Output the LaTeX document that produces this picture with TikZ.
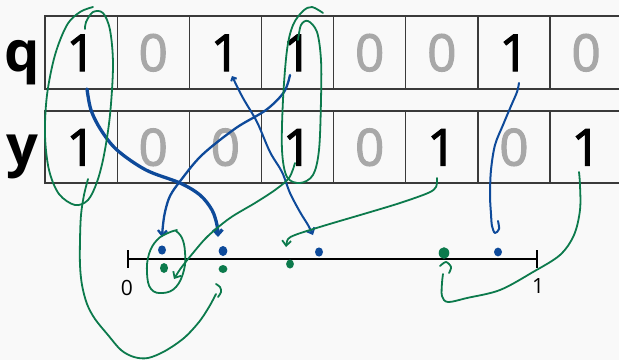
\documentclass[tikz,border=0pt]{standalone}
\usepackage{fontspec}
\setmainfont{Open Sans}
\newfontfamily\digfont[FakeBold=2.2]{Open Sans}
\usetikzlibrary{arrows.meta}
\definecolor{bg}{HTML}{F9F9F9}
\definecolor{gridc}{HTML}{3A3A3A}
\definecolor{pen}{HTML}{0E4A9A}
\definecolor{ink}{HTML}{0C7A4C}
\definecolor{zero}{HTML}{A8A8A8}
\begin{document}
\begin{tikzpicture}[x=1pt,y=-1pt,
  cell/.style={draw=gridc, line width=1.3pt, fill=bg, minimum width=72.15pt,
    minimum height=73pt, inner sep=0pt, text height=37pt, text depth=0pt,
    font=\fontsize{51}{51}\digfont},
  one/.style={cell, text=black},
  nil/.style={cell, text=zero},
  rowlab/.style={anchor=base, inner sep=0pt, font=\fontsize{56}{56}\selectfont\bfseries},
  axlab/.style={anchor=base, inner sep=0pt, font=\fontsize{21}{21}\selectfont},
  bstroke/.style={draw=pen, line width=2.3pt, line cap=round, line join=round},
  gstroke/.style={draw=ink, line width=1.8pt, line cap=round, line join=round},
  barb/.style={-{Straight Barb[length=5pt,width=9pt]}},
  hd/.style={smooth, tension=0.55}]
\useasboundingbox (0,0) rectangle (619,360);
\clip (0,0) rectangle (619,360);
\fill[bg] (0,0) rectangle (619,360);

% grid cells
\foreach \d [count=\i] in {1,0,1,1,0,0,1,0} {
  \ifnum\d=1 \node[one] (q\i) at ({45+72.15*(\i-0.5)},52.5) {1};
  \else \node[nil] (q\i) at ({45+72.15*(\i-0.5)},52.5) {0}; \fi
}
\foreach \d [count=\i] in {1,0,0,1,0,1,0,1} {
  \ifnum\d=1 \node[one, minimum height=72pt] (y\i) at ({45+72.15*(\i-0.5)},147) {1};
  \else \node[nil, minimum height=72pt] (y\i) at ({45+72.15*(\i-0.5)},147) {0}; \fi
}
\node[rowlab] (ql) at (22,71) {q};
\node[rowlab] (yl) at (22,165) {y};

% number line
\coordinate (n0) at (128,259);
\coordinate (n1) at (537,259);
\draw[line width=2.3pt] (n0) -- (n1);
\draw[line width=2.3pt] (128,250) -- (128,268);
\draw[line width=2.3pt] (537,250) -- (537,268);
\node[axlab] (l0) at (127,295) {0};
\node[axlab] (l1) at (538,293) {1};

% dots
\fill[pen] (162,250) ellipse [x radius=4pt, y radius=4.6pt];
\fill[pen] (223,251) ellipse [x radius=4.4pt, y radius=5pt];
\fill[pen] (319,252) ellipse [x radius=4pt, y radius=4.6pt];
\fill[pen] (498,252) ellipse [x radius=4pt, y radius=4.4pt];
\fill[ink] (164,268) ellipse [x radius=4pt, y radius=5pt];
\fill[ink] (223,269) ellipse [x radius=4.4pt, y radius=4pt];
\fill[ink] (290,264) ellipse [x radius=3.9pt, y radius=4.5pt];
\fill[ink] (444,253) ellipse [x radius=5.3pt, y radius=5.8pt];

% blue strokes
\draw[bstroke, line width=3.3pt, barb] plot[hd] coordinates {(87,89) (91,110) (101,130) (117,150) (146,170) (180,183) (200,195) (212,210) (217,225) (218,237)};
\draw[bstroke, barb] plot[hd] coordinates {(290,75) (284,92) (266,110) (236,128) (202,155) (181,180) (170,196) (165,212) (163,225) (162,237)};
\draw[bstroke, line width=2pt, {Straight Barb[length=3pt,width=6pt]}-{Straight Barb[length=5pt,width=9pt]}] plot[hd] coordinates {(232,76) (243,98) (257,122) (270,152) (282,172) (290,193) (300,212) (308,225) (313,235)};
\draw[bstroke, line width=2pt] plot[hd] coordinates {(519,83) (517,92) (511,106) (503,125) (495,145) (491,170) (490,195) (491,214) (492,226) (495,233) (499,229) (498,221)};

% green ellipses
\draw[gstroke] plot[hd] coordinates {(93,7) (80,12) (67,25) (55,55) (47,95) (45,135) (49,170) (59,194) (75,205) (88,200) (97,182) (104,155) (110,115) (113,65) (110,30) (103,13) (93,12) (86,22) (85,29)};
\draw[gstroke] plot[hd] coordinates {(323,13) (312,7) (303,11) (293,25) (287,50) (283,100) (282,150) (287,177) (300,183) (313,175) (319,150) (321,100) (321,60) (317,32) (308,21) (301,25) (298,40)};
\draw[gstroke] plot[hd, tension=0.7] coordinates {(176,231) (182,238) (185,252) (184,270) (176,287) (163,293) (151,289) (147,273) (149,254) (157,240) (168,233) (177,230)};

% green connectors
\draw[gstroke] plot[hd] coordinates {(88,179) (84,195) (81,215) (80,240) (80,265) (82,285) (87,304) (95,319) (108,335) (121,350) (134,357) (148,358) (165,351) (184,338) (199,322) (209,307) (216,294)};
\draw[gstroke] plot[hd] coordinates {(216,284) (220,287) (221,292) (218,297)};
\draw[gstroke, barb] plot[hd] coordinates {(295,163) (289,178) (275,190) (255,203) (230,218) (208,236) (193,253) (181,268) (174,279)};
\draw[gstroke, barb] plot[hd] coordinates {(437,178) (436,187) (428,193) (400,203) (367,213) (333,223) (310,230) (295,235) (288,239) (286,247)};
\draw[gstroke] plot[hd] coordinates {(579,172) (580,185) (580,210) (574,235) (560,255) (533,272) (500,290) (467,298) (448,302) (442,296) (442,283) (443,274)};
\draw[gstroke] plot[hd] coordinates {(440,266) (446,262) (451,267) (449,273)};
\end{tikzpicture}
\end{document}
